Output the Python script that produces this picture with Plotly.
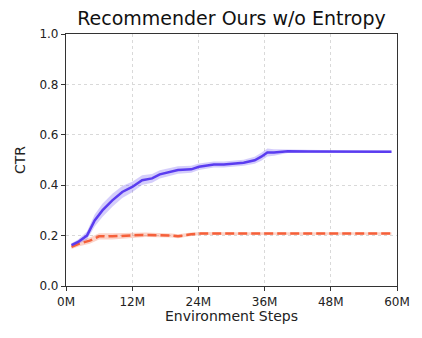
import plotly.graph_objects as go

# values (x in millions of steps)
ours_steps = [1, 2.2, 3.8, 5.2, 6.6, 8.4, 10.2, 12, 13.8, 15.6, 17, 20.3, 22.7, 24.1, 26.8, 28.6,
              32.2, 34.2, 35.4, 36.5, 37.7, 40.2, 44, 48, 52, 56, 59]
ours_ctr = [0.162, 0.175, 0.20, 0.26, 0.30, 0.34, 0.373, 0.393, 0.42, 0.427, 0.443, 0.46, 0.463,
            0.473, 0.482, 0.482, 0.489, 0.499, 0.513, 0.53, 0.53, 0.535, 0.534, 0.534, 0.533, 0.533, 0.533]
ours_std = [0.008, 0.01, 0.016, 0.024, 0.026, 0.026, 0.024, 0.021, 0.019, 0.017, 0.016, 0.015, 0.014,
            0.013, 0.012, 0.012, 0.012, 0.014, 0.016, 0.016, 0.013, 0.007, 0.005, 0.005, 0.005, 0.005, 0.005]

noent_steps = [1, 2.4, 4.3, 6, 8.4, 12, 14.4, 19.2, 20.3, 22.7, 24.4, 30, 36, 42, 48, 54, 59]
noent_ctr = [0.155, 0.168, 0.18, 0.197, 0.197, 0.2, 0.203, 0.2, 0.197, 0.205, 0.208, 0.208, 0.208,
             0.208, 0.208, 0.208, 0.208]
noent_std = [0.008, 0.01, 0.012, 0.012, 0.012, 0.01, 0.009, 0.008, 0.008, 0.007, 0.006, 0.005, 0.005,
             0.005, 0.005, 0.005, 0.005]

tick_vals = [0, 12, 24, 36, 48, 60]
tick_text = ['0M', '12M', '24M', '36M', '48M', '60M']

blue = '#5a3cf0'
red = '#f5603a'

fig = go.Figure()


def band(xs, ys, sd, color_fill):
    upper = [y + s for y, s in zip(ys, sd)]
    lower = [y - s for y, s in zip(ys, sd)]
    fig.add_trace(go.Scatter(x=xs + xs[::-1], y=upper + lower[::-1], fill='toself',
                             fillcolor=color_fill, line=dict(width=0), mode='lines',
                             hoverinfo='skip', showlegend=False))


band(noent_steps, noent_ctr, noent_std, 'rgba(245,96,58,0.28)')
band(ours_steps, ours_ctr, ours_std, 'rgba(90,60,240,0.26)')
fig.add_trace(go.Scatter(x=noent_steps, y=noent_ctr, mode='lines',
                         line=dict(color=red, width=2.5, dash='9px,4px'), showlegend=False))
fig.add_trace(go.Scatter(x=ours_steps, y=ours_ctr, mode='lines',
                         line=dict(color=blue, width=2.5), showlegend=False))

axis_style = dict(showline=True, linecolor='#333333', linewidth=1.2, mirror=True,
                  ticks='outside', ticklen=4, tickcolor='#333333',
                  showgrid=True, gridcolor='#d9d9d9', griddash='3px,3px', gridwidth=1,
                  zeroline=False, tickfont=dict(size=12, color='#222222'))

# the page puts the figure 8px in from the top-left corner
fig.update_layout(
    width=422, height=338,
    margin=dict(l=51, r=33, t=26, b=60),
    plot_bgcolor='white', paper_bgcolor='white',
    font=dict(family='DejaVu Sans', color='#222222'),
    title=dict(text='Recommender Ours w/o Entropy', x=0.5, xanchor='center',
               xref='paper', y=0.97, yanchor='middle', font=dict(size=19, color='#111111')),
    xaxis=dict(range=[0, 60], tickvals=tick_vals, ticktext=tick_text,
               title=dict(text='Environment Steps', font=dict(size=14), standoff=2), **axis_style),
    yaxis=dict(range=[0, 1], tickvals=[0, 0.2, 0.4, 0.6, 0.8, 1.0], tickformat='.1f',
               title=dict(text='CTR', font=dict(size=14), standoff=10), **axis_style),
)

fig.write_html("out.html")
